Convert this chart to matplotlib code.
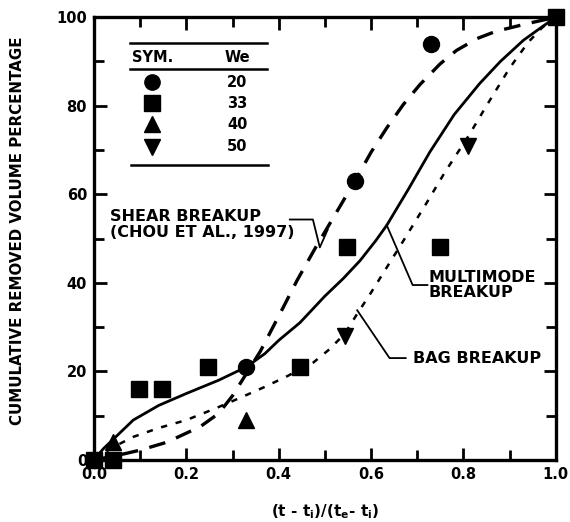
import matplotlib.pyplot as plt
from matplotlib.ticker import MultipleLocator

plt.rcParams['font.family'] = ['DejaVu Sans']
plt.rcParams['font.weight'] = 'bold'
plt.rcParams['mathtext.default'] = 'bf'

# measured points
we20_x = [0.0, 0.33, 0.565, 0.73]
we20_y = [0.0, 21, 63, 94]
we33_x = [0.0, 0.04, 0.098, 0.147, 0.247, 0.446, 0.548, 0.75, 1.0]
we33_y = [0.0, 0.0, 16, 16, 21, 21, 48, 48, 100]
we40_x = [0.04, 0.33]
we40_y = [4, 9]
we50_x = [0.543, 0.81]
we50_y = [28, 71]

# fitted curves
shear_x = [0.0, 0.05, 0.1, 0.158, 0.23, 0.27, 0.30, 0.33, 0.36, 0.41, 0.44, 0.48, 0.517,
           0.565, 0.6, 0.634, 0.67, 0.706, 0.75, 0.785, 0.83, 0.87, 0.94, 1.0]
shear_y = [0.0, 1.0, 2.2, 4.0, 7.5, 10.5, 14.5, 19.5, 24.5, 34.5, 40.6, 48, 54.5,
           63, 69.5, 75, 80.3, 84.8, 89.5, 92.5, 95.2, 96.8, 98.6, 100]
multi_x = [0.0, 0.02, 0.05, 0.085, 0.14, 0.2, 0.27, 0.33, 0.37, 0.40, 0.446, 0.5, 0.54,
           0.576, 0.61, 0.634, 0.68, 0.727, 0.78, 0.835, 0.88, 0.93, 0.97, 1.0]
multi_y = [0.0, 2.5, 5.5, 9.0, 12.3, 15, 18, 21, 24, 27, 31, 37, 41,
           45, 49.5, 53, 61, 69.5, 78, 85, 90, 94.8, 97.8, 100]
bag_x = [0.0, 0.04, 0.085, 0.14, 0.2, 0.26, 0.316, 0.37, 0.42, 0.475, 0.51, 0.543, 0.57,
         0.6, 0.67, 0.72, 0.76, 0.81, 0.85, 0.9, 0.94, 0.97, 1.0]
bag_y = [0.0, 2.8, 5.2, 7.2, 9.0, 11.5, 14, 16.5, 19, 22, 25, 28.5, 33,
         37.8, 49.5, 58, 65, 73, 80, 88.5, 94.3, 97.6, 100]

legend_we = ['20', '33', '40', '50']
legend_markers = ['o', 's', '^', 'v']
legend_y = [85.3, 80.6, 75.8, 70.7]

fig = plt.figure(figsize=(5.7, 5.22), dpi=100)
ax = fig.add_axes([0.165, 0.119, 0.81, 0.848])

ax.plot(shear_x, shear_y, color='black', lw=2.4, dashes=(5, 3.5))
ax.plot(multi_x, multi_y, color='black', lw=2.0)
ax.plot(bag_x, bag_y, color='black', lw=1.8, dashes=(2.5, 3.5))

ms = 11.5
ax.plot(we20_x, we20_y, 'o', color='black', ms=ms, clip_on=False)
ax.plot(we33_x, we33_y, 's', color='black', ms=ms - 0.5, clip_on=False)
ax.plot(we40_x, we40_y, '^', color='black', ms=ms, clip_on=False)
ax.plot(we50_x, we50_y, 'v', color='black', ms=ms, clip_on=False)

# symbol table
ax.plot([0.078, 0.374], [94.1, 94.1], color='black', lw=1.8)
ax.plot([0.078, 0.374], [88.3, 88.3], color='black', lw=1.8)
ax.plot([0.08, 0.376], [66.6, 66.6], color='black', lw=1.8)
ax.text(0.083, 90.9, 'SYM.', fontsize=10.5, va='center')
ax.text(0.31, 90.9, 'We', fontsize=10.5, va='center', ha='center')
for m, w, yy in zip(legend_markers, legend_we, legend_y):
    ax.plot([0.126], [yy], m, color='black', ms=ms - 0.5)
    ax.text(0.31, yy, w, fontsize=10.5, va='center', ha='center')

# labels with leaders
ax.text(0.035, 53.2, 'SHEAR BREAKUP\n(CHOU ET AL., 1997)', fontsize=11.5,
        va='center', linespacing=1.05)
ax.plot([0.424, 0.474, 0.489, 0.506], [54.3, 54.3, 48, 52], color='black', lw=1.3)
ax.text(0.725, 39.5, 'MULTIMODE\nBREAKUP', fontsize=11.5, va='center', linespacing=1.05)
ax.plot([0.634, 0.69, 0.722], [53, 39.5, 39.5], color='black', lw=1.3)
ax.text(0.69, 23, 'BAG BREAKUP', fontsize=11.5, va='center')
ax.plot([0.57, 0.64, 0.675], [33.8, 23, 23], color='black', lw=1.3)

ax.set_xlim(0, 1.0)
ax.set_ylim(0, 100)
ax.xaxis.set_major_locator(MultipleLocator(0.2))
ax.xaxis.set_minor_locator(MultipleLocator(0.1))
ax.yaxis.set_major_locator(MultipleLocator(20))
ax.yaxis.set_minor_locator(MultipleLocator(10))
ax.tick_params(which='both', direction='in', top=True, right=True,
               width=2, labelsize=10.5)
ax.tick_params(which='major', length=9, pad=5)
ax.tick_params(which='minor', length=7)
ax.xaxis.set_major_formatter(plt.FuncFormatter(lambda v, p: f'{v:.1f}'))
for lab in ax.get_xticklabels() + ax.get_yticklabels():
    lab.set_fontweight('bold')
for s in ax.spines.values():
    s.set_linewidth(2.4)

ax.set_xlabel(r'(t - t$_{i}$)/(t$_{e}$- t$_{i}$)', fontsize=11, fontweight='bold')
ax.set_ylabel('CUMULATIVE REMOVED VOLUME PERCENTAGE', fontsize=10.8, fontweight='bold')
ax.xaxis.set_label_coords(0.5, -0.095)
ax.yaxis.set_label_coords(-0.15, 0.517)

fig.savefig('out.png', dpi=100)
